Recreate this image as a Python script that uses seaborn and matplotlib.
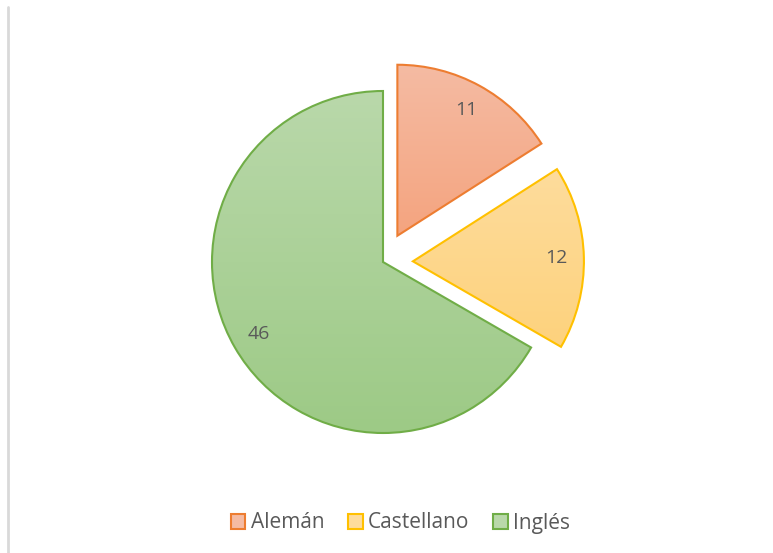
import matplotlib
matplotlib.use("Agg")
import matplotlib.pyplot as plt
import seaborn as sns
import numpy as np
from matplotlib.colors import LinearSegmentedColormap
from matplotlib.patches import Patch
from matplotlib.lines import Line2D

# datos
idiomas = ["Alemán", "Castellano", "Inglés"]
valores = [11, 12, 46]
bordes = ["#ED7D31", "#FFC000", "#70AD47"]
arriba = ["#F5BBA3", "#FEDC9C", "#B9D8AA"]
abajo = ["#F4A47F", "#FDD27D", "#9DCA86"]
separa = [0.175, 0.175, 0]

sns.set_style("white")
plt.rcParams["font.family"] = ["Open Sans", "DejaVu Sans"]

fig = plt.figure(figsize=(7.73, 5.53), dpi=100)
ax = fig.add_axes([0, 0, 1, 1])

wedges, textos = ax.pie(valores, labels=[str(v) for v in valores], startangle=90,
                        counterclock=False, explode=separa, labeldistance=0.84,
                        wedgeprops=dict(facecolor="none", linewidth=1.5),
                        textprops=dict(color="#595959", fontsize=14, ha="center", va="center"))

# relleno degradado recortado a cada porción
for w, c_arr, c_ab, c_borde in zip(wedges, arriba, abajo, bordes):
    w.set_edgecolor(c_borde)
    w.set_zorder(3)
    x0, y0, x1, y1 = w.get_path().get_extents().extents
    cmap = LinearSegmentedColormap.from_list("g", [c_ab, c_arr])
    grad = np.linspace(1, 0, 100).reshape(-1, 1)
    im = ax.imshow(grad, extent=[x0, x1, y0, y1], cmap=cmap, aspect="auto", zorder=2)
    im.set_clip_path(w)
for t in textos:
    t.set_zorder(4)

ax.set_aspect("auto")
ax.set_xlim(-383 / 171, (773 - 383) / 171)
ax.set_ylim(-(553 - 262) / 171, 262 / 171)
ax.axis("off")

# línea del borde izquierdo
fig.add_artist(Line2D([8 / 773, 8 / 773], [0, 1 - 7 / 553], color="#D9D9D9", lw=2))

manejadores = [Patch(facecolor=a, edgecolor=b, linewidth=1.5) for a, b in zip(arriba, bordes)]
fig.legend(manejadores, idiomas, loc="center", bbox_to_anchor=(0.5 + 14 / 773, 1 - 523 / 553), ncol=3,
           frameon=False, fontsize=15, labelcolor="#595959", handlelength=0.7, handleheight=0.7,
           handletextpad=0.25, columnspacing=1.15)

plt.savefig("out.png", dpi=100)
